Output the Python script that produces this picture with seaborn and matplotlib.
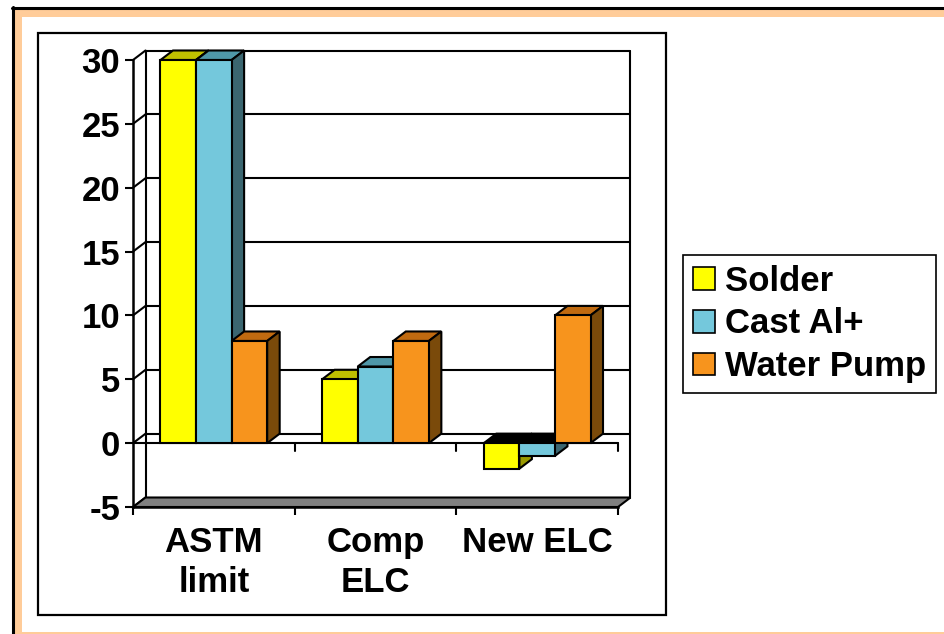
import matplotlib
matplotlib.use("Agg")
import matplotlib.pyplot as plt
from matplotlib.patches import Rectangle, Polygon, Patch
from matplotlib.lines import Line2D
import numpy as np
import pandas as pd
import seaborn as sns

# ---- data -------------------------------------------------------------
categories = ["ASTM\nlimit", "Comp\nELC", "New ELC"]
series = ["Solder", "Cast Al+", "Water Pump"]
solder = [30, 5, -2]
cast_al = [30, 6, -1]
water_pump = [8, 8, 10]
y_ticks = [-5, 0, 5, 10, 15, 20, 25, 30]

# ---- styling ----------------------------------------------------------
front_colors = ["#FFFF00", "#74C8DC", "#F7941D"]
top_colors = ["#C0C000", "#4F97A8", "#C06A10"]
side_colors = ["#9A9A00", "#3B6670", "#7A4A0A"]
peach = "#FFCC99"
floor_gray = "#808080"

df = pd.DataFrame({
    "category": categories * 3,
    "series": [s for s in series for _ in categories],
    "value": solder + cast_al + water_pump,
})

sns.set_theme(style="white")
plt.rcParams["font.family"] = ["Liberation Sans", "DejaVu Sans"]
plt.rcParams["font.weight"] = "bold"
for key in ["text.color", "axes.labelcolor", "xtick.color", "ytick.color"]:
    plt.rcParams[key] = "black"

W, H = 945, 634
fig = plt.figure(figsize=(W / 100, H / 100), dpi=100)
fig.patch.set_facecolor("white")


def fx(p):
    return p / W


def fy(p):
    return 1 - p / H


# ---- slide-style frame ------------------------------------------------
fig.add_artist(Rectangle((fx(13), fy(640)), fx(960) - fx(13), fy(8) - fy(640),
                         transform=fig.transFigure, facecolor=peach,
                         edgecolor="none", zorder=0))
fig.add_artist(Rectangle((fx(22), fy(632)), fx(960) - fx(22), fy(17) - fy(632),
                         transform=fig.transFigure, facecolor="white",
                         edgecolor="none", zorder=0))
fig.add_artist(Line2D([fx(12), fx(960)], [fy(7.5), fy(7.5)],
                      transform=fig.transFigure, color="black", lw=2.2))
fig.add_artist(Line2D([fx(13), fx(13)], [fy(7), fy(640)],
                      transform=fig.transFigure, color="black", lw=2.2))
fig.add_artist(Rectangle((fx(38), fy(615)), fx(666) - fx(38), fy(33) - fy(615),
                         transform=fig.transFigure, facecolor="none",
                         edgecolor="black", lw=1.6, zorder=1))

# ---- axes = front plane of the 3-D box --------------------------------
ax = fig.add_axes([fx(133), fy(507), fx(618) - fx(133), (507 - 60) / H])
ax.patch.set_visible(False)

sns.barplot(data=df, x="category", y="value", hue="series",
            order=categories, hue_order=series, palette=front_colors,
            saturation=1, width=0.66, edgecolor="black", linewidth=1.5,
            errorbar=None, legend=False, ax=ax)

xmin, xmax = -0.5, len(categories) - 0.5
ymin, ymax = -5, 30
ax.set_xlim(xmin, xmax)
ax.set_ylim(ymin, ymax)

# depth offset of the 3-D box, expressed in data units
ax_w_px = 618 - 133
ax_h_px = 507 - 60
dx = 12.5 / ax_w_px * (xmax - xmin)
dy = 9.5 / ax_h_px * (ymax - ymin)

line_kw = dict(color="black", lw=1.5, clip_on=False)

# back wall gridlines and edges
for v in y_ticks:
    if v > ymin:
        ax.plot([xmin + dx, xmax + dx], [v + dy, v + dy], zorder=1, **line_kw)
    # side-wall diagonals joining the front axis to the back wall
    ax.plot([xmin, xmin + dx], [v, v + dy], zorder=1, **line_kw)
ax.plot([xmin + dx, xmin + dx], [ymin + dy, ymax + dy], zorder=1, **line_kw)
ax.plot([xmax + dx, xmax + dx], [ymin + dy, ymax + dy], zorder=1, **line_kw)

# floor slab
ax.add_patch(Polygon([(xmin, ymin), (xmax, ymin), (xmax + dx, ymin + dy),
                      (xmin + dx, ymin + dy)], closed=True,
                     facecolor=floor_gray, edgecolor="black", lw=1.5,
                     zorder=1.5, clip_on=False))

# category axis drawn at zero on the front plane
tick_len = 8 / ax_h_px * (ymax - ymin)
ax.plot([xmin, xmax], [0, 0], zorder=2, **line_kw)
for b in np.arange(xmin + 1, xmax + 0.01, 1.0):
    ax.plot([b, b], [0, -tick_len], zorder=2, **line_kw)

# 3-D faces (top and right side) for every bar
for h, cont in enumerate(ax.containers):
    for bar in cont:
        x0 = bar.get_x()
        w = bar.get_width()
        y0 = bar.get_y()
        hgt = bar.get_height()
        ybot, ytop = min(y0, y0 + hgt), max(y0, y0 + hgt)
        bar.set_zorder(3 + h)
        bar.set_clip_on(False)
        top_c = top_colors[h] if hgt >= 0 else "black"
        ax.add_patch(Polygon([(x0, ytop), (x0 + dx, ytop + dy),
                              (x0 + w + dx, ytop + dy), (x0 + w, ytop)],
                             closed=True, facecolor=top_c, edgecolor="black",
                             lw=1.5, zorder=2.5 + h, clip_on=False))
        ax.add_patch(Polygon([(x0 + w, ybot), (x0 + w + dx, ybot + dy),
                              (x0 + w + dx, ytop + dy), (x0 + w, ytop)],
                             closed=True, facecolor=side_colors[h],
                             edgecolor="black", lw=1.5, zorder=2.5 + h,
                             clip_on=False))

# axes, ticks and labels
for s in ["top", "right"]:
    ax.spines[s].set_visible(False)
for s in ["left", "bottom"]:
    ax.spines[s].set_linewidth(1.8)
    ax.spines[s].set_color("black")
    ax.spines[s].set_zorder(6)

ax.set_yticks(y_ticks)
ax.set_yticklabels([str(v) for v in y_ticks])
ax.tick_params(axis="y", direction="out", length=5.8, width=1.5,
               color="black", labelcolor="black", pad=3.5, labelsize=25)
ax.yaxis.set_ticks_position("left")

ax.set_xticks(range(len(categories)))
ax.set_xticklabels(categories, linespacing=1.25)
ax.set_xticks(np.arange(xmin, xmax + 0.01, 1.0), minor=True)
ax.tick_params(axis="x", which="major", length=0, pad=14, labelsize=25,
               labelcolor="black")
ax.tick_params(axis="x", which="minor", direction="out", length=5.8,
               width=1.5, color="black", bottom=True)
for lab in ax.get_xticklabels() + ax.get_yticklabels():
    lab.set_fontweight("bold")
    lab.set_color("black")
ax.set_xlabel("")
ax.set_ylabel("")

# legend
handles = [Patch(facecolor=c, edgecolor="black", linewidth=1.2, label=s)
           for c, s in zip(front_colors, series)]
leg = fig.legend(handles=handles, loc="upper left",
                 bbox_to_anchor=(fx(683), fy(255)),
                 bbox_transform=fig.transFigure, frameon=True, fancybox=False,
                 edgecolor="black", framealpha=1,
                 prop=dict(weight="bold", size=25),
                 handlelength=0.63, handleheight=0.63, handletextpad=0.3,
                 labelspacing=0.28, borderpad=0.28, borderaxespad=0)
leg.get_frame().set_linewidth(1.2)
for t in leg.get_texts():
    t.set_color("black")

fig.savefig("out.png", dpi=100)
